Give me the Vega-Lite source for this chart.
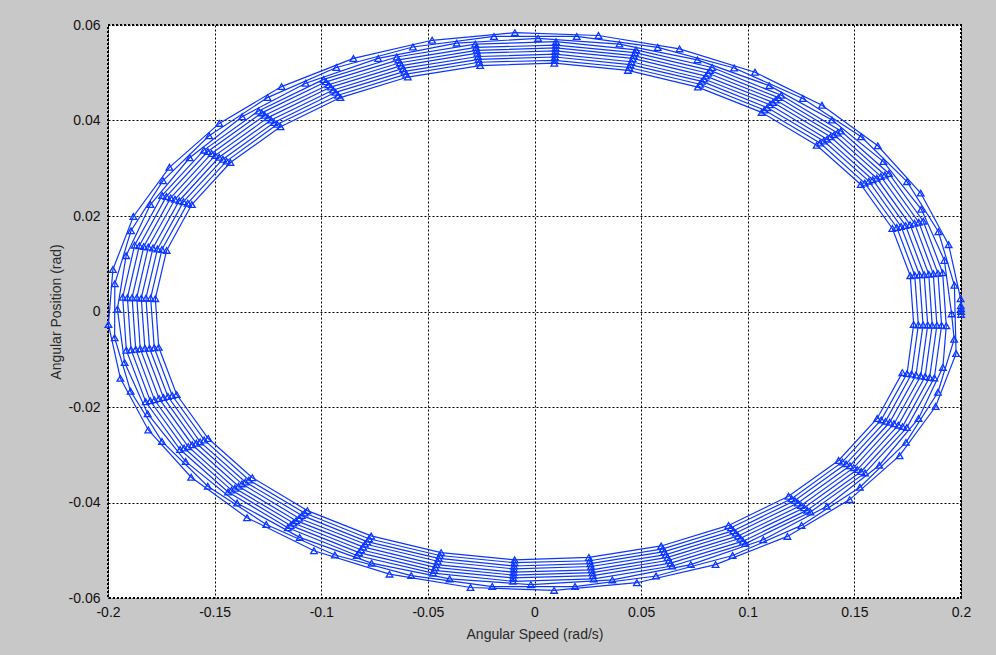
{
"$schema":"https://vega.github.io/schema/vega-lite/v6.json",
"width":853,"height":573,
"autosize":{"type":"none"},
"padding":{"left":108,"top":25,"right":35,"bottom":57},
"background":"#c8c8c8",
"config":{
 "view":{"fill":"white","stroke":"black","strokeWidth":2,"strokeDash":[2,2]},
 "axis":{"labelFont":"Liberation Sans","titleFont":"Liberation Sans","labelFontSize":14,"titleFontSize":14,"titleFontWeight":"normal","labelColor":"#111111","titleColor":"#2a2a2a","grid":true,"gridColor":"black","gridDash":[2,2],"gridWidth":1,"gridOpacity":1,"domain":false,"ticks":false,"tickSize":0,"labelFlush":false,"labelOverlap":false}
},
"data":{"values":[
{"x":0.2,"y":-0.0006},{"x":0.2,"y":0},{"x":0.2,"y":0.0006},{"x":0.1999,"y":0.0012},
{"x":0.1998,"y":0.0027},{"x":0.1942,"y":0.014},{"x":0.1811,"y":0.0248},{"x":0.161,"y":0.0347},{"x":0.1348,"y":0.0432},{"x":0.1034,"y":0.0501},{"x":0.068,"y":0.055},{"x":0.03,"y":0.0578},{"x":-0.0092,"y":0.0584},{"x":-0.048,"y":0.0568},{"x":-0.0849,"y":0.053},{"x":-0.1186,"y":0.0471},{"x":-0.1478,"y":0.0394},{"x":-0.1712,"y":0.0302},{"x":-0.1881,"y":0.0199},{"x":-0.1977,"y":0.0088},{"x":-0.1998,"y":-0.0027},{"x":-0.1942,"y":-0.014},{"x":-0.1811,"y":-0.0248},{"x":-0.161,"y":-0.0347},{"x":-0.1348,"y":-0.0432},{"x":-0.1034,"y":-0.0501},{"x":-0.068,"y":-0.055},{"x":-0.03,"y":-0.0578},{"x":0.0092,"y":-0.0584},{"x":0.048,"y":-0.0568},{"x":0.0849,"y":-0.053},{"x":0.1186,"y":-0.0471},{"x":0.1478,"y":-0.0394},{"x":0.1712,"y":-0.0302},{"x":0.1881,"y":-0.0199},{"x":0.1977,"y":-0.0088},
{"x":0.1969,"y":0.0055},{"x":0.1894,"y":0.0167},{"x":0.1747,"y":0.0272},{"x":0.1532,"y":0.0366},{"x":0.1258,"y":0.0446},{"x":0.0936,"y":0.051},{"x":0.0578,"y":0.0553},{"x":0.0198,"y":0.0576},{"x":-0.019,"y":0.0576},{"x":-0.057,"y":0.0554},{"x":-0.0929,"y":0.0511},{"x":-0.1252,"y":0.0448},{"x":-0.1526,"y":0.0368},{"x":-0.1742,"y":0.0274},{"x":-0.1892,"y":0.0169},{"x":-0.1968,"y":0.0058},{"x":-0.1969,"y":-0.0055},{"x":-0.1894,"y":-0.0167},{"x":-0.1747,"y":-0.0272},{"x":-0.1532,"y":-0.0366},{"x":-0.1258,"y":-0.0446},{"x":-0.0936,"y":-0.051},{"x":-0.0578,"y":-0.0553},{"x":-0.0198,"y":-0.0576},{"x":0.019,"y":-0.0576},{"x":0.057,"y":-0.0554},{"x":0.0929,"y":-0.0511},{"x":0.1252,"y":-0.0448},{"x":0.1526,"y":-0.0368},{"x":0.1742,"y":-0.0274},{"x":0.1892,"y":-0.0169},{"x":0.1968,"y":-0.0058},
{"x":0.1956,"y":-0.0005},{"x":0.1922,"y":0.0107},{"x":0.1814,"y":0.0214},{"x":0.1636,"y":0.0314},{"x":0.1395,"y":0.0401},{"x":0.1101,"y":0.0473},{"x":0.0764,"y":0.0527},{"x":0.0398,"y":0.056},{"x":0.0017,"y":0.0572},{"x":-0.0365,"y":0.0562},{"x":-0.0733,"y":0.053},{"x":-0.1073,"y":0.0478},{"x":-0.1371,"y":0.0408},{"x":-0.1617,"y":0.0322},{"x":-0.1801,"y":0.0224},{"x":-0.1915,"y":0.0117},{"x":-0.1956,"y":0.0005},{"x":-0.1922,"y":-0.0107},{"x":-0.1814,"y":-0.0214},{"x":-0.1636,"y":-0.0314},{"x":-0.1395,"y":-0.0401},{"x":-0.1101,"y":-0.0473},{"x":-0.0764,"y":-0.0527},{"x":-0.0398,"y":-0.056},{"x":-0.0017,"y":-0.0572},{"x":0.0365,"y":-0.0562},{"x":0.0733,"y":-0.053},{"x":0.1073,"y":-0.0478},{"x":0.1371,"y":-0.0408},{"x":0.1617,"y":-0.0322},{"x":0.1801,"y":-0.0224},{"x":0.1915,"y":-0.0117},
{"x":0.1931,"y":-0.003},{"x":0.1914,"y":0.0081},{"x":0.1823,"y":0.0189},{"x":0.1662,"y":0.0289},{"x":0.1437,"y":0.0378},{"x":0.1157,"y":0.0453},{"x":0.0833,"y":0.0511},{"x":0.0476,"y":0.0548},{"x":0.0101,"y":0.0565},{"x":-0.0278,"y":0.056},{"x":-0.0646,"y":0.0533},{"x":-0.0989,"y":0.0486},{"x":-0.1294,"y":0.042},{"x":-0.155,"y":0.0338},{"x":-0.1746,"y":0.0243},{"x":-0.1875,"y":0.0139},{"x":-0.1931,"y":0.003},{"x":-0.1914,"y":-0.0081},{"x":-0.1823,"y":-0.0189},{"x":-0.1662,"y":-0.0289},{"x":-0.1437,"y":-0.0378},{"x":-0.1157,"y":-0.0453},{"x":-0.0833,"y":-0.0511},{"x":-0.0476,"y":-0.0548},{"x":-0.0101,"y":-0.0565},{"x":0.0278,"y":-0.056},{"x":0.0646,"y":-0.0533},{"x":0.0989,"y":-0.0486},{"x":0.1294,"y":-0.042},{"x":0.155,"y":-0.0338},{"x":0.1746,"y":-0.0243},{"x":0.1875,"y":-0.0139},
{"x":0.1909,"y":-0.0029},{"x":0.1892,"y":0.008},{"x":0.1802,"y":0.0187},{"x":0.1643,"y":0.0286},{"x":0.1421,"y":0.0374},{"x":0.1144,"y":0.0448},{"x":0.0823,"y":0.0505},{"x":0.0471,"y":0.0542},{"x":0.01,"y":0.0558},{"x":-0.0274,"y":0.0553},{"x":-0.0638,"y":0.0527},{"x":-0.0978,"y":0.0481},{"x":-0.1279,"y":0.0416},{"x":-0.1532,"y":0.0335},{"x":-0.1726,"y":0.0241},{"x":-0.1853,"y":0.0138},{"x":-0.1909,"y":0.0029},{"x":-0.1892,"y":-0.008},{"x":-0.1802,"y":-0.0187},{"x":-0.1643,"y":-0.0286},{"x":-0.1421,"y":-0.0374},{"x":-0.1144,"y":-0.0448},{"x":-0.0823,"y":-0.0505},{"x":-0.0471,"y":-0.0542},{"x":-0.01,"y":-0.0558},{"x":0.0274,"y":-0.0553},{"x":0.0638,"y":-0.0527},{"x":0.0978,"y":-0.0481},{"x":0.1279,"y":-0.0416},{"x":0.1532,"y":-0.0335},{"x":0.1726,"y":-0.0241},{"x":0.1853,"y":-0.0138},
{"x":0.1887,"y":-0.0029},{"x":0.187,"y":0.0079},{"x":0.1782,"y":0.0185},{"x":0.1624,"y":0.0283},{"x":0.1405,"y":0.037},{"x":0.1131,"y":0.0443},{"x":0.0814,"y":0.0499},{"x":0.0465,"y":0.0536},{"x":0.0099,"y":0.0552},{"x":-0.0271,"y":0.0547},{"x":-0.0631,"y":0.0521},{"x":-0.0966,"y":0.0475},{"x":-0.1265,"y":0.0411},{"x":-0.1514,"y":0.0331},{"x":-0.1706,"y":0.0238},{"x":-0.1832,"y":0.0136},{"x":-0.1887,"y":0.0029},{"x":-0.187,"y":-0.0079},{"x":-0.1782,"y":-0.0185},{"x":-0.1624,"y":-0.0283},{"x":-0.1405,"y":-0.037},{"x":-0.1131,"y":-0.0443},{"x":-0.0814,"y":-0.0499},{"x":-0.0465,"y":-0.0536},{"x":-0.0099,"y":-0.0552},{"x":0.0271,"y":-0.0547},{"x":0.0631,"y":-0.0521},{"x":0.0966,"y":-0.0475},{"x":0.1265,"y":-0.0411},{"x":0.1514,"y":-0.0331},{"x":0.1706,"y":-0.0238},{"x":0.1832,"y":-0.0136},
{"x":0.1865,"y":-0.0029},{"x":0.1849,"y":0.0078},{"x":0.1761,"y":0.0182},{"x":0.1605,"y":0.0279},{"x":0.1388,"y":0.0366},{"x":0.1118,"y":0.0438},{"x":0.0804,"y":0.0493},{"x":0.046,"y":0.053},{"x":0.0098,"y":0.0546},{"x":-0.0268,"y":0.0541},{"x":-0.0624,"y":0.0515},{"x":-0.0955,"y":0.047},{"x":-0.125,"y":0.0406},{"x":-0.1497,"y":0.0327},{"x":-0.1686,"y":0.0235},{"x":-0.1811,"y":0.0135},{"x":-0.1865,"y":0.0029},{"x":-0.1849,"y":-0.0078},{"x":-0.1761,"y":-0.0182},{"x":-0.1605,"y":-0.0279},{"x":-0.1388,"y":-0.0366},{"x":-0.1118,"y":-0.0438},{"x":-0.0804,"y":-0.0493},{"x":-0.046,"y":-0.053},{"x":-0.0098,"y":-0.0546},{"x":0.0268,"y":-0.0541},{"x":0.0624,"y":-0.0515},{"x":0.0955,"y":-0.047},{"x":0.125,"y":-0.0406},{"x":0.1497,"y":-0.0327},{"x":0.1686,"y":-0.0235},{"x":0.1811,"y":-0.0135},
{"x":0.1844,"y":-0.0028},{"x":0.1827,"y":0.0077},{"x":0.174,"y":0.018},{"x":0.1586,"y":0.0276},{"x":0.1372,"y":0.0361},{"x":0.1104,"y":0.0433},{"x":0.0795,"y":0.0487},{"x":0.0454,"y":0.0523},{"x":0.0097,"y":0.0539},{"x":-0.0265,"y":0.0534},{"x":-0.0616,"y":0.0509},{"x":-0.0944,"y":0.0464},{"x":-0.1235,"y":0.0401},{"x":-0.1479,"y":0.0323},{"x":-0.1666,"y":0.0232},{"x":-0.1789,"y":0.0133},{"x":-0.1844,"y":0.0028},{"x":-0.1827,"y":-0.0077},{"x":-0.174,"y":-0.018},{"x":-0.1586,"y":-0.0276},{"x":-0.1372,"y":-0.0361},{"x":-0.1104,"y":-0.0433},{"x":-0.0795,"y":-0.0487},{"x":-0.0454,"y":-0.0523},{"x":-0.0097,"y":-0.0539},{"x":0.0265,"y":-0.0534},{"x":0.0616,"y":-0.0509},{"x":0.0944,"y":-0.0464},{"x":0.1235,"y":-0.0401},{"x":0.1479,"y":-0.0323},{"x":0.1666,"y":-0.0232},{"x":0.1789,"y":-0.0133},
{"x":0.1822,"y":-0.0028},{"x":0.1805,"y":0.0077},{"x":0.1719,"y":0.0178},{"x":0.1568,"y":0.0273},{"x":0.1356,"y":0.0357},{"x":0.1091,"y":0.0427},{"x":0.0785,"y":0.0482},{"x":0.0449,"y":0.0517},{"x":0.0096,"y":0.0533},{"x":-0.0262,"y":0.0528},{"x":-0.0609,"y":0.0503},{"x":-0.0933,"y":0.0459},{"x":-0.1221,"y":0.0396},{"x":-0.1461,"y":0.0319},{"x":-0.1646,"y":0.023},{"x":-0.1768,"y":0.0131},{"x":-0.1822,"y":0.0028},{"x":-0.1805,"y":-0.0077},{"x":-0.1719,"y":-0.0178},{"x":-0.1568,"y":-0.0273},{"x":-0.1356,"y":-0.0357},{"x":-0.1091,"y":-0.0427},{"x":-0.0785,"y":-0.0482},{"x":-0.0449,"y":-0.0517},{"x":-0.0096,"y":-0.0533},{"x":0.0262,"y":-0.0528},{"x":0.0609,"y":-0.0503},{"x":0.0933,"y":-0.0459},{"x":0.1221,"y":-0.0396},{"x":0.1461,"y":-0.0319},{"x":0.1646,"y":-0.023},{"x":0.1768,"y":-0.0131},
{"x":0.18,"y":-0.0028},{"x":0.1783,"y":0.0076},{"x":0.1699,"y":0.0176},{"x":0.1549,"y":0.0269},{"x":0.1339,"y":0.0353},{"x":0.1078,"y":0.0422},{"x":0.0776,"y":0.0476},{"x":0.0444,"y":0.0511},{"x":0.0094,"y":0.0526},{"x":-0.0259,"y":0.0522},{"x":-0.0602,"y":0.0497},{"x":-0.0921,"y":0.0453},{"x":-0.1206,"y":0.0392},{"x":-0.1444,"y":0.0315},{"x":-0.1626,"y":0.0227},{"x":-0.1747,"y":0.013},{"x":-0.18,"y":0.0028},{"x":-0.1783,"y":-0.0076},{"x":-0.1699,"y":-0.0176},{"x":-0.1549,"y":-0.0269},{"x":-0.1339,"y":-0.0353},{"x":-0.1078,"y":-0.0422},{"x":-0.0776,"y":-0.0476},{"x":-0.0444,"y":-0.0511},{"x":-0.0094,"y":-0.0526},{"x":0.0259,"y":-0.0522},{"x":0.0602,"y":-0.0497},{"x":0.0921,"y":-0.0453},{"x":0.1206,"y":-0.0392},{"x":0.1444,"y":-0.0315},{"x":0.1626,"y":-0.0227},{"x":0.1747,"y":-0.013},
{"x":0.1778,"y":-0.0027},{"x":0.1762,"y":0.0075},{"x":0.1678,"y":0.0174},{"x":0.153,"y":0.0266},{"x":0.1323,"y":0.0348},{"x":0.1065,"y":0.0417},{"x":0.0766,"y":0.047},{"x":0.0438,"y":0.0505},{"x":0.0093,"y":0.052},{"x":-0.0255,"y":0.0515},{"x":-0.0594,"y":0.0491},{"x":-0.091,"y":0.0448},{"x":-0.1191,"y":0.0387},{"x":-0.1426,"y":0.0312},{"x":-0.1607,"y":0.0224},{"x":-0.1725,"y":0.0128},{"x":-0.1778,"y":0.0027},{"x":-0.1762,"y":-0.0075},{"x":-0.1678,"y":-0.0174},{"x":-0.153,"y":-0.0266},{"x":-0.1323,"y":-0.0348},{"x":-0.1065,"y":-0.0417},{"x":-0.0766,"y":-0.047},{"x":-0.0438,"y":-0.0505},{"x":-0.0093,"y":-0.052},{"x":0.0255,"y":-0.0515},{"x":0.0594,"y":-0.0491},{"x":0.091,"y":-0.0448},{"x":0.1191,"y":-0.0387},{"x":0.1426,"y":-0.0312},{"x":0.1607,"y":-0.0224},{"x":0.1725,"y":-0.0128}
]},
"mark":{"type":"line","color":"#0a36ff","strokeWidth":1.2,"point":{"shape":"triangle-up","filled":false,"size":44,"strokeWidth":1.3,"stroke":"#0a36ff","opacity":1}},
"encoding":{
 "x":{"field":"x","type":"quantitative","scale":{"domain":[-0.2,0.2],"nice":false,"zero":false},
  "axis":{"values":[-0.2,-0.15,-0.1,-0.05,0,0.05,0.1,0.15,0.2],"title":"Angular Speed (rad/s)","labelPadding":7,"titlePadding":8,
   "labelExpr":"datum.value < 0 ? '-' + format(-datum.value, '~g') : format(datum.value, '~g')"}},
 "y":{"field":"y","type":"quantitative","scale":{"domain":[-0.06,0.06],"nice":false,"zero":false},
  "axis":{"values":[-0.06,-0.04,-0.02,0,0.02,0.04,0.06],"title":"Angular Position (rad)","labelPadding":8,"titlePadding":5,
   "labelExpr":"datum.value < 0 ? '-' + format(-datum.value, '~g') : format(datum.value, '~g')"}},
 "order":{"value":null}
}
}
